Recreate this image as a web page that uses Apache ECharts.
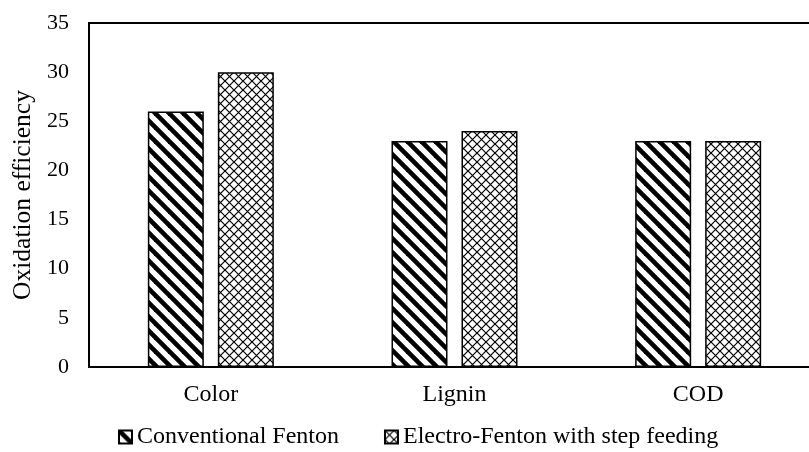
<!DOCTYPE html>
<html>
<head>
<meta charset="utf-8">
<script src="https://cdn.jsdelivr.net/npm/echarts@6/dist/echarts.min.js"></script>
<style>html,body{margin:0;padding:0;background:#fff;overflow:hidden}#c{width:820px;height:452px}</style>
</head>
<body>
<div id="c"></div>
<script>
var categories = ['Color', 'Lignin', 'COD'];
var seriesNames = ['Conventional Fenton', 'Electro-Fenton with step feeding'];
var conventional = [26, 23, 23];
var electro = [30, 24, 23];
var yTicks = [0, 5, 10, 15, 20, 25, 30, 35];

function stripePattern() {
  var s = 14, c = document.createElement('canvas');
  c.width = s; c.height = s;
  var g = c.getContext('2d');
  g.fillStyle = '#fff'; g.fillRect(0, 0, s, s);
  g.strokeStyle = '#000'; g.lineWidth = 4.6;
  for (var k = -1; k <= 1; k++) {
    g.beginPath();
    g.moveTo(k * s - 2, -2);
    g.lineTo(k * s + s + 2, s + 2);
    g.stroke();
  }
  return c;
}
function crossPattern() {
  var s = 9, c = document.createElement('canvas');
  c.width = s; c.height = s;
  var g = c.getContext('2d');
  g.fillStyle = '#fff'; g.fillRect(0, 0, s, s);
  g.strokeStyle = '#000'; g.lineWidth = 1.2;
  g.beginPath();
  g.moveTo(0, 0); g.lineTo(s, s);
  g.moveTo(s, 0); g.lineTo(0, s);
  g.stroke();
  return c;
}

var font = '"Liberation Serif", "Times New Roman", serif';
var chart = echarts.init(document.getElementById('c'));
chart.setOption({
  animation: false,
  backgroundColor: '#fff',
  textStyle: { fontFamily: font, color: '#000' },
  grid: { left: 89, right: 0, top: 23, bottom: 85, show: true, borderColor: '#000', borderWidth: 2 },
  legend: {
    left: 113, top: 420,
    itemWidth: 13, itemHeight: 13, itemGap: 45,
    textStyle: { fontFamily: font, fontSize: 24, color: '#000' },
    data: [{ name: seriesNames[0], icon: 'rect' }, { name: seriesNames[1], icon: 'rect' }]
  },
  xAxis: {
    type: 'category', data: categories,
    axisLine: { lineStyle: { color: '#000', width: 2 } },
    axisTick: { show: false },
    axisLabel: { fontFamily: font, fontSize: 24, color: '#000', margin: 16 }
  },
  yAxis: {
    type: 'value', min: 0, max: 35, interval: 5,
    name: 'Oxidation efficiency', nameLocation: 'middle', nameGap: 51,
    nameTextStyle: { fontFamily: font, fontSize: 25.5, color: '#000' },
    axisLine: { show: true, lineStyle: { color: '#000', width: 2 } },
    axisTick: { show: false },
    splitLine: { show: false },
    axisLabel: { fontFamily: font, fontSize: 22, color: '#000', margin: 20,
      formatter: function (v) { return yTicks.indexOf(v) >= 0 ? String(v) : ''; } }
  },
  series: [
    { name: seriesNames[0], type: 'bar', data: conventional, barWidth: 56, barGap: '25%',
      itemStyle: { color: { image: stripePattern(), repeat: 'repeat' }, borderColor: '#000', borderWidth: 1.5 } },
    { name: seriesNames[1], type: 'bar', data: electro, barWidth: 56, barGap: '25%',
      itemStyle: { color: { image: crossPattern(), repeat: 'repeat' }, borderColor: '#000', borderWidth: 1.5 } }
  ]
});
</script>
</body>
</html>
